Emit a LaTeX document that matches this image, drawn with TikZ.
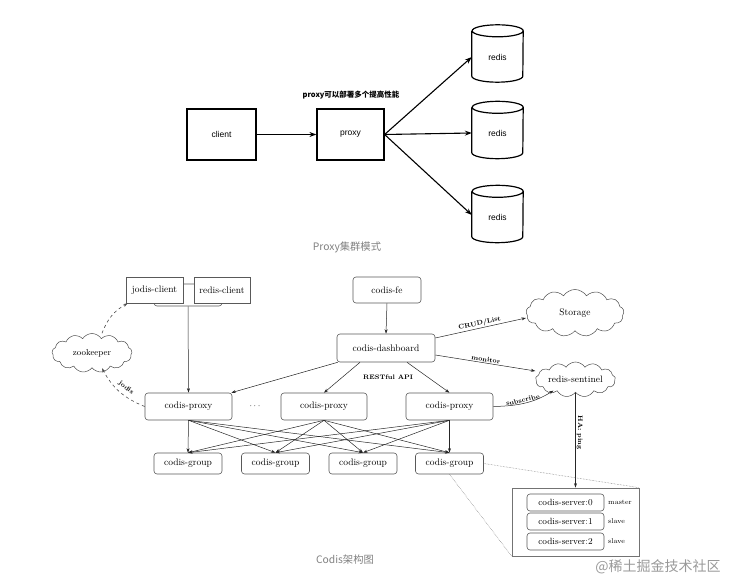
\documentclass[tikz,border=0pt]{standalone}
\usepackage{fontspec}
\newfontfamily\cjk{Noto Sans CJK SC}
\newfontfamily\hv{Liberation Sans}
\usetikzlibrary{shapes.symbols,arrows.meta}
\begin{document}
\begin{tikzpicture}[x=1pt,y=-1pt,
  topbox/.style={draw, line width=1.2pt, minimum width=69pt, minimum height=51pt, inner sep=0pt, font=\hv\fontsize{8.5}{10}\selectfont},
  cylnode/.style={minimum width=51pt, minimum height=57pt, inner sep=0pt},
  toparr/.style={line width=1.1pt, -{Stealth[length=7pt,width=5pt]}},
  cbox/.style={draw=black!65, line width=0.6pt, rounded corners=3pt, inner sep=0pt, font=\fontsize{9.5}{11}\selectfont},
  sqbox/.style={draw=black!65, line width=0.6pt, inner sep=0pt, font=\fontsize{9.5}{11}\selectfont},
  carr/.style={draw=black!85, line width=0.5pt, -{Stealth[length=4.5pt,width=3pt]}},
  darr/.style={draw=black!70, line width=0.6pt, dashed, -{Stealth[length=4.5pt,width=3pt]}},
  lbl/.style={font=\bfseries\fontsize{6.5}{7}\selectfont, inner sep=1pt},
  cloudn/.style={cloud, draw=black!70, line width=0.5pt, cloud puffs=13, cloud puff arc=115, cloud ignores aspect, inner sep=0pt, font=\fontsize{9.3}{11}\selectfont},
  srv/.style={cbox, minimum width=77pt, minimum height=17pt, font=\fontsize{9}{10}\selectfont},
  role/.style={anchor=west, inner sep=0pt, font=\fontsize{7}{8}\selectfont},
  caption/.style={text=black!50, font=\cjk\fontsize{10.3}{12}\selectfont}
]
\useasboundingbox (0,0) rectangle (732,580);

% ---------- Proxy cluster mode ----------
\node[topbox] (client) at (221.5,134.5) {client};
\node[topbox, minimum width=67pt] (proxy) at (350.5,134.5) {proxy};
\node[font=\cjk\bfseries\fontsize{7.5}{9}\selectfont, inner sep=0pt] (plabel) at (351,95) {proxy可以部署多个提高性能};

\node[cylnode, label={[font=\hv\fontsize{8.5}{10}\selectfont, yshift=-3.5pt]center:redis}] (r1) at (497.5,53.5) {};
\node[cylnode, label={[font=\hv\fontsize{8.5}{10}\selectfont, yshift=-3.5pt]center:redis}] (r2) at (497.5,130) {};
\node[cylnode, label={[font=\hv\fontsize{8.5}{10}\selectfont, yshift=-3.5pt]center:redis}] (r3) at (497.5,214) {};
\foreach \r in {r1,r2,r3}{
  \draw[line width=1.2pt] ([yshift=-6pt]\r.north west) -- ([yshift=6pt]\r.south west)
    arc[start angle=180,end angle=360,x radius=25.5pt,y radius=6pt]
    -- ([yshift=-6pt]\r.north east)
    arc[start angle=0,end angle=180,x radius=25.5pt,y radius=6pt]
    arc[start angle=180,end angle=360,x radius=25.5pt,y radius=6pt];
}
\draw[toparr] (client.east) -- (proxy.west);
\draw[toparr] (proxy.east) -- ([yshift=-3.5pt]r1.west);
\draw[toparr] (proxy.east) -- ([yshift=-3pt]r2.west);
\draw[toparr] (proxy.east) -- ([yshift=-1pt]r3.west);

\node[caption] (cap1) at (347,247) {Proxy集群模式};

% ---------- Codis architecture ----------
\node[cbox, minimum width=68pt, minimum height=22pt] (cl) at (188,295) {};
\node[sqbox, fill=white, minimum width=57pt, minimum height=26pt] (jc) at (154.5,290) {jodis-client};
\node[sqbox, fill=white, minimum width=56pt, minimum height=26pt] (rc) at (222,290) {redis-client};

\node[cbox, minimum width=68pt, minimum height=26pt] (fe) at (387,290) {codis-fe};
\node[cbox, minimum width=98pt, minimum height=28pt] (dash) at (386,348) {codis-dashboard};

\node[cbox, minimum width=87pt, minimum height=27pt] (p1) at (188.5,406.5) {codis-proxy};
\node[cbox, minimum width=86pt, minimum height=27pt] (p2) at (324,406.5) {codis-proxy};
\node[cbox, minimum width=87pt, minimum height=27pt] (p3) at (449.5,406.5) {codis-proxy};
\node[font=\fontsize{9.5}{11}\selectfont] (dots) at (255,406) {$\cdots$};

\node[cbox, minimum width=68pt, minimum height=21pt] (g1) at (188,463.5) {codis-group};
\node[cbox, minimum width=68pt, minimum height=21pt] (g2) at (275.5,463.5) {codis-group};
\node[cbox, minimum width=68pt, minimum height=21pt] (g3) at (363,463.5) {codis-group};
\node[cbox, minimum width=68pt, minimum height=21pt] (g4) at (449.5,463.5) {codis-group};

\node[cloudn, minimum width=80pt, minimum height=39pt, font=\fontsize{8.7}{10}\selectfont] (zk) at (92,353) {zookeeper};
\node[cloudn, minimum width=98pt, minimum height=47pt, font=\fontsize{9.5}{11}\selectfont] (st) at (575,313) {Storage};
\node[cloudn, minimum width=80pt, minimum height=35pt] (sen) at (575.5,379.5) {redis-sentinel};

\node[draw=black!55, line width=0.6pt, minimum width=127pt, minimum height=68pt, inner sep=0pt] (sbox) at (575.5,522) {};
\node[srv] (s0) at (565.5,502.5) {codis-server:0};
\node[srv] (s1) at (565.5,521.5) {codis-server:1};
\node[srv] (s2) at (565.5,541.5) {codis-server:2};
\node[role] (m0) at (608,502.5) {master};
\node[role] (m1) at (608,521.5) {slave};
\node[role] (m2) at (608,541.5) {slave};

% connectors
\draw[carr] (cl.south) -- (p1.north);
\draw[carr] (fe.south) -- (dash.north);
\draw[carr] ([xshift=1pt]dash.south west) -- ([xshift=-1pt]p1.north east);
\draw[carr] ([xshift=-26pt]dash.south) -- (p2.north);
\draw[carr] ([xshift=21pt]dash.south) -- (p3.north);
\node[lbl] (rest) at (388,377) {RESTful API};

\foreach \p in {p1,p2,p3}{
  \foreach \g in {g1,g2,g3,g4}{
    \draw[carr] (\p.south) -- (\g.north);
  }
}

\draw[carr] ([yshift=10pt]dash.east) -- node[lbl, sloped, above] {CRUD/List} ([yshift=-5pt]st.west);
\draw[carr] ([yshift=-7pt]dash.east) -- node[lbl, sloped, above] {monitor} ([yshift=8.5pt]sen.west);
\draw[carr] (p3.east) .. controls (520,406) and (535,402) .. node[lbl, sloped, above, pos=0.45] {subscribe} ([xshift=-22pt, yshift=2pt]sen.south);
\draw[carr] (sen.south) -- node[lbl, rotate=-90, anchor=south, pos=0.42] {HA: ping} (sen.south |- sbox.north);

\draw[darr] ([xshift=10pt]zk.north) to[bend left=20] ([xshift=2pt]jc.south west);
\draw[darr] (p1.west) to[bend left=20] node[lbl, sloped, above=3pt, pos=0.45] {jodis} ([xshift=10pt]zk.south);

\draw[black!55, densely dotted, line width=0.5pt] (g4.east) -- (sbox.north east);
\draw[black!55, densely dotted, line width=0.5pt] (g4.south) -- (sbox.south west);

\node[caption] (cap2) at (345,560) {Codis架构图};
\node[text=black!40, font=\cjk\fontsize{14}{16}\selectfont, inner sep=0pt] (wm) at (658,567) {@稀土掘金技术社区};
\end{tikzpicture}
\end{document}
